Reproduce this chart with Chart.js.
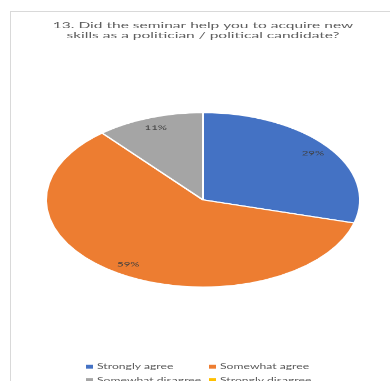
<!DOCTYPE html>
<html>
<head>
<meta charset="utf-8">
<script src="https://cdn.jsdelivr.net/npm/chart.js@4/dist/chart.umd.min.js"></script>
<style>
  html, body { margin: 0; padding: 0; background: #fff; overflow: hidden; width: 390px; height: 381px; }
  #frame { position: absolute; left: 10px; top: 11px; width: 420px; height: 420px;
           border-left: 1px solid #d9d9d9; border-top: 1px solid #d9d9d9; }
  /* the whole chart sheet is drawn tall and flattened vertically */
  #stage { position: absolute; left: 11px; top: 11px; width: 384px; height: 680px;
           transform: scaleY(0.5554); transform-origin: 0 0; }
  #stage canvas { position: absolute; left: 0; top: 0; }
  #legend { position: absolute; left: 75px; top: 629px; display: grid;
            grid-template-columns: 123px 123px; font: 12.2px Lato, sans-serif; color: #595959; }
  .item { display: flex; align-items: center; height: 23.4px; white-space: nowrap; }
  .swatch { width: 7px; height: 7px; margin-right: 4px; flex: none; }
</style>
</head>
<body>
<div id="frame"></div>
<div id="stage">
  <canvas id="pie" width="384" height="680"></canvas>
  <div id="legend"></div>
</div>
<script>
const categories = ['Strongly agree', 'Somewhat agree', 'Somewhat disagree', 'Strongly disagree'];
const shares = [29, 59, 11, 0];
const titleLines = ['13. Did the seminar help you to acquire new', 'skills as a politician / political candidate?'];

const sliceColors = ['#4472C4', '#ED7D31', '#A5A5A5', '#FFC000'];

// Percentage text placed near the rim of each slice
const sliceLabels = {
  id: 'sliceLabels',
  afterDatasetsDraw(chart) {
    const ctx = chart.ctx;
    const meta = chart.getDatasetMeta(0);
    const values = chart.data.datasets[0].data;
    ctx.save();
    ctx.font = '11.5px Lato';
    ctx.fillStyle = '#404040';
    ctx.textAlign = 'center';
    ctx.textBaseline = 'middle';
    meta.data.forEach((arc, i) => {
      if (!values[i]) return;
      const p = arc.getProps(['x', 'y', 'startAngle', 'endAngle', 'outerRadius'], true);
      const mid = (p.startAngle + p.endAngle) / 2;
      const r = p.outerRadius * 0.88;
      ctx.fillText(values[i] + '%', p.x + Math.cos(mid) * r, p.y + Math.sin(mid) * r);
    });
    ctx.restore();
  }
};

// Two-column legend built from the chart's own legend items
const htmlLegend = {
  id: 'htmlLegend',
  afterUpdate(chart) {
    const box = document.getElementById('legend');
    box.innerHTML = '';
    const items = chart.options.plugins.legend.labels.generateLabels(chart);
    items.forEach(it => {
      const row = document.createElement('div');
      row.className = 'item';
      const sw = document.createElement('span');
      sw.className = 'swatch';
      sw.style.background = it.fillStyle;
      const tx = document.createElement('span');
      tx.textContent = it.text;
      row.append(sw, tx);
      box.appendChild(row);
    });
  }
};

new Chart(document.getElementById('pie'), {
  type: 'pie',
  data: {
    labels: categories,
    datasets: [{
      data: shares,
      backgroundColor: sliceColors,
      borderColor: '#ffffff',
      borderWidth: 2,
      radius: 157
    }]
  },
  options: {
    responsive: false,
    animation: false,
    devicePixelRatio: 1,
    events: [],
    layout: { padding: { bottom: 57 } },
    plugins: {
      legend: { display: false },
      tooltip: { enabled: false },
      title: {
        display: true,
        text: titleLines,
        color: '#5f5f5f',
        font: { family: 'Lato', size: 15.5, weight: 'normal', lineHeight: 18 / 15.5 },
        padding: { top: 17, bottom: 4 }
      }
    }
  },
  plugins: [sliceLabels, htmlLegend]
});
</script>
</body>
</html>
